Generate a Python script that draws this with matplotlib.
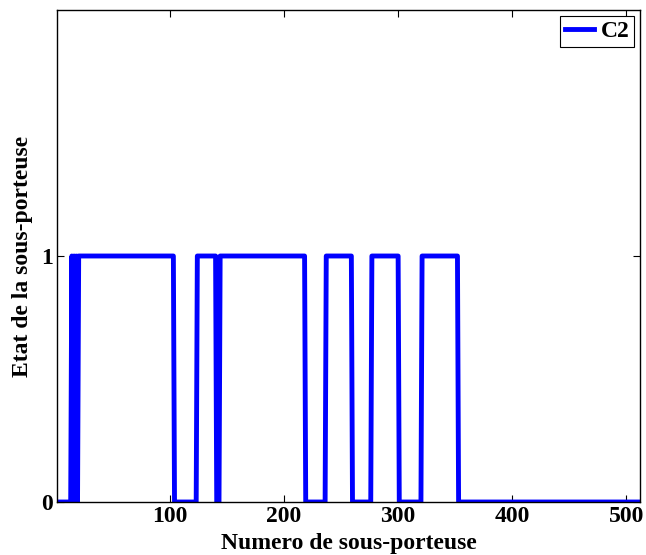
import numpy as np
import matplotlib
matplotlib.use("Agg")
import matplotlib.pyplot as plt

plt.rcParams['font.family'] = ['Liberation Serif', 'DejaVu Serif']
plt.rcParams['font.weight'] = 'bold'

# Subcarrier index range and intervals where state = 1
n_sub = 512
on_starts = [20, 124, 144, 237, 277, 321]
on_ends = [103, 140, 218, 259, 300, 352]
toggle_ones = [14, 16, 18]          # rapid on/off region near index 14..20
series_name = "C2"
xticks = [100, 200, 300, 400, 500]
yticks = [0, 1]

x = np.arange(1, n_sub + 1)
state = np.zeros(n_sub)
for s, e in zip(on_starts, on_ends):
    state[(x >= s) & (x <= e)] = 1
for t in toggle_ones:
    state[x == t] = 1

fs = 17
fig = plt.figure(figsize=(6.46, 5.55), dpi=100)
ax = fig.add_axes([57/646, 1 - 502/555, 583/646, 492/555])
ax.plot(x, state, color='#0000ff', linewidth=3.5, label=series_name)
ax.set_xlim(1, n_sub)
ax.set_ylim(0, 2)
ax.set_xticks(xticks)
ax.set_yticks(yticks)
ax.tick_params(direction='in', length=5, width=0.8, top=True, right=True,
               labelsize=fs, pad=3)
for lab in ax.get_xticklabels() + ax.get_yticklabels():
    lab.set_fontweight('bold')
for sp in ax.spines.values():
    sp.set_linewidth(1.0)
ax.set_xlabel("Numero de sous-porteuse", fontsize=fs, fontweight='bold', labelpad=4)
ax.set_ylabel("Etat de la sous-porteuse", fontsize=fs, fontweight='bold', labelpad=6)
leg = ax.legend(loc='upper right', handlelength=1.2, handletextpad=0.3,
                borderaxespad=0.25, fancybox=False, framealpha=1,
                prop={'size': fs, 'weight': 'bold'}, borderpad=0.2)
leg.get_frame().set_edgecolor('black')
leg.get_frame().set_linewidth(0.8)
fig.savefig("out.png", dpi=100)
